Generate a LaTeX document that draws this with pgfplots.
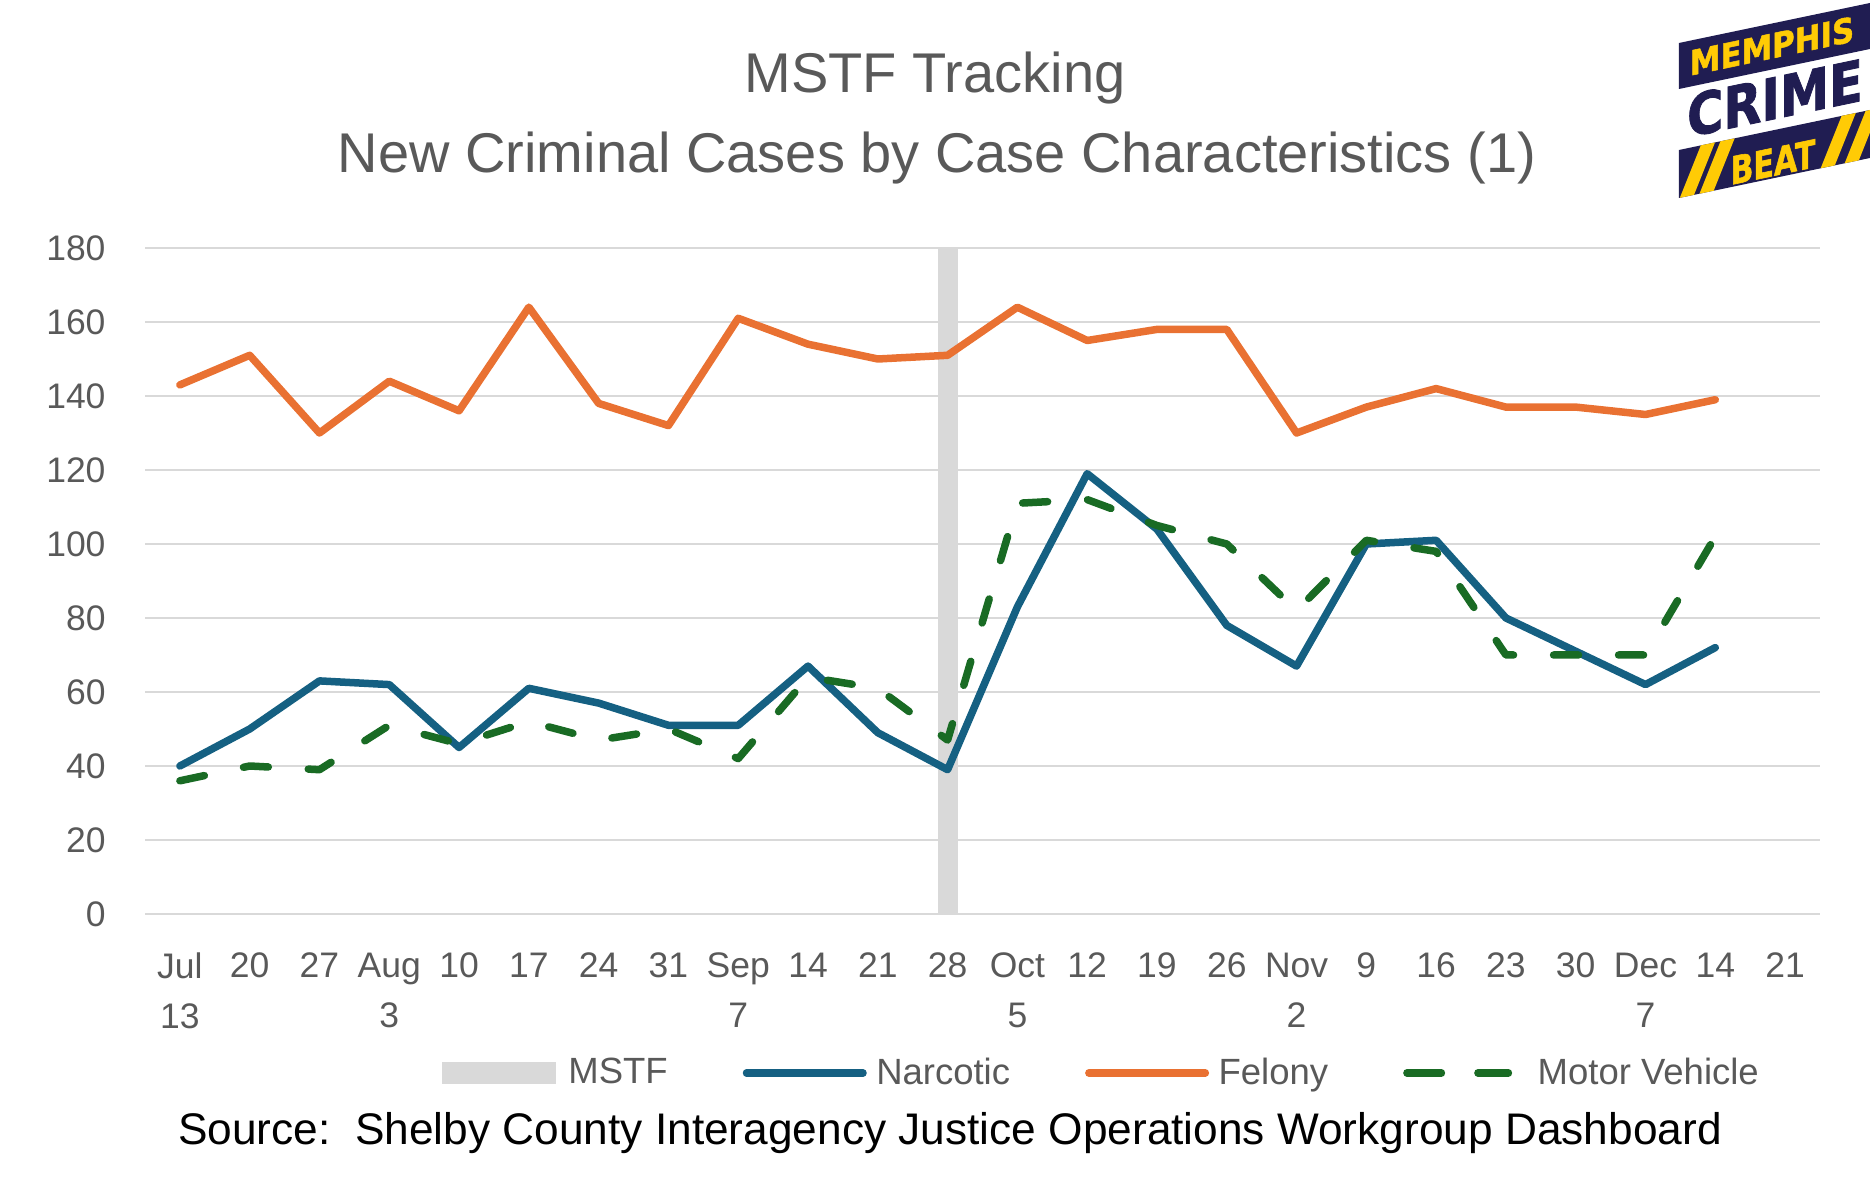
\documentclass[border=0pt]{standalone}
\usepackage{fontspec}
\setmainfont{Liberation Sans}
\newfontfamily\logofont{DejaVu Sans}[BoldFeatures={FakeBold=1.5}]
\usepackage{pgfplots}
\pgfplotsset{compat=1.18}
\definecolor{narc}{HTML}{156082}
\definecolor{fel}{HTML}{E97132}
\definecolor{mv}{HTML}{196B24}
\definecolor{gridc}{HTML}{D9D9D9}
\definecolor{txt}{HTML}{595959}
\definecolor{navy}{HTML}{201D52}
\definecolor{gold}{HTML}{FFCB05}
\pgfplotsset{
  mylinelegend/.style={legend image code/.code={\draw[##1] (0pt,0pt) -- (46.6pt,0pt); \path (48.4pt,0pt);}},
  mydashlegend/.style={legend image code/.code={\draw[##1, solid] (0pt,0pt) -- (13.8pt,0pt); \draw[##1, solid] (28.4pt,0pt) -- (40.6pt,0pt); \path (48.8pt,0pt);}},
  mybarlegend/.style={legend image code/.code={\fill[gridc] (0pt,-4.4pt) rectangle (45.6pt,4.4pt); \path (48.4pt,0pt);}},
}

\pgfplotstableread{
x felony narcotic motor
0 143 40 36
1 151 50 40
2 130 63 39
3 144 62 51
4 136 45 46
5 164 61 52
6 138 57 47
7 132 51 50
8 161 51 42
9 154 67 64
10 150 49 61
11 151 39 47
12 164 83 111
13 155 119 112
14 158 104 105
15 158 78 100
16 130 67 82
17 137 100 101
18 142 101 98
19 137 80 70
20 137 71 70
21 135 62 70
22 139 72 102
}\datatable

\begin{document}
\begin{tikzpicture}
\useasboundingbox (0pt,0pt) rectangle (748pt,-475.2pt);
\begin{axis}[
  at={(58pt,-365.6pt)}, anchor=south west,
  scale only axis, width=670pt, height=266.4pt,
  xmin=-0.5, xmax=23.5, ymin=0, ymax=180,
  xtick={0,...,23},
  xticklabels={{Jul\\13},20,27,{Aug\\3},10,17,24,31,{Sep\\7},14,21,28,{Oct\\5},12,19,26,{Nov\\2},9,16,23,30,{Dec\\7},14,21},
  ytick={0,20,...,180},
  ymajorgrids,
  grid style={gridc, line width=1.1pt},
  axis line style={draw=none},
  major tick length=0pt,
  /pgf/number format/assume math mode=true,
  xticklabel style={align=center, font=\fontsize{14.2}{20}\selectfont, text=txt, anchor=north, inner sep=0pt, yshift=-15.3pt},
  yticklabel style={font=\fontsize{14.2}{17}\selectfont, text=txt, anchor=east, inner sep=0pt, xshift=-15.6pt},
  legend style={at={(0.572,-0.2387)}, anchor=center, draw=none, fill=none,
    font=\fontsize{14.6}{17}\selectfont, text=txt, legend columns=4,
    /tikz/every even column/.append style={column sep=28pt}},
  legend cell align=left,
]
\addplot[ybar, bar width=8pt, fill=gridc, draw=none, mybarlegend]
  coordinates {(11,180)};
\addlegendentry{MSTF}
\addplot[narc, line width=3pt, line cap=round, line join=round, mylinelegend]
  table[x=x, y=narcotic] {\datatable};
\addlegendentry{Narcotic}
\addplot[fel, line width=3pt, line cap=round, line join=round, mylinelegend]
  table[x=x, y=felony] {\datatable};
\addlegendentry{Felony}
\addplot[mv, line width=3pt, line cap=round, line join=round, dash pattern=on 10pt off 16pt, mydashlegend]
  table[x=x, y=motor] {\datatable};
\addlegendentry{Motor Vehicle}
\end{axis}

\begin{scope}[x=0.4pt, y=-0.4pt]
\node[anchor=base, text=txt, font=\fontsize{22.4}{26}\selectfont, inner sep=0pt] at (935,93) {MSTF Tracking};
\node[anchor=base, text=txt, font=\fontsize{22.4}{26}\selectfont, inner sep=0pt] at (937,173) {New Criminal Cases by Case Characteristics (1)};
\node[anchor=base, text=black, font=\fontsize{17.7}{20}\selectfont, inner sep=0pt] at (950,1145) {Source:\ \ Shelby County Interagency Justice Operations Workgroup Dashboard};

% logo
\fill[navy] (1679,43) -- (1870,3) -- (1870,49) -- (1679,89) -- cycle;
\fill[navy] (1679,150) -- (1870,110) -- (1870,158) -- (1679,198) -- cycle;
\begin{scope}
\clip (1679,150) -- (1870,110) -- (1870,158) -- (1679,198) -- cycle;
\foreach \s in {1677,1695,1806,1828}{
  \fill[gold] (\s,205) -- (\s+13,205) -- (\s+55,100) -- (\s+42,100) -- cycle;
}
\end{scope}
\begin{scope}[shift={(1772,46)}, yslant=0.21, transform shape]
\node[text=gold, font=\logofont\bfseries\fontsize{13.7}{14}\selectfont, xscale=0.9, inner sep=-0.5pt] at (0,0) {MEMPHIS};
\end{scope}
\begin{scope}[shift={(1775,98)}, yslant=0.21, transform shape]
\node[text=navy, font=\logofont\bfseries\fontsize{23}{24}\selectfont, xscale=0.86, inner sep=-0.5pt] at (0,0) {CRIME};
\end{scope}
\begin{scope}[shift={(1773,162)}, yslant=0.21, transform shape]
\node[text=gold, font=\logofont\bfseries\fontsize{15.4}{16}\selectfont, xscale=0.78, inner sep=-0.5pt] at (0,0) {BEAT};
\end{scope}
\end{scope}
\end{tikzpicture}
\end{document}
